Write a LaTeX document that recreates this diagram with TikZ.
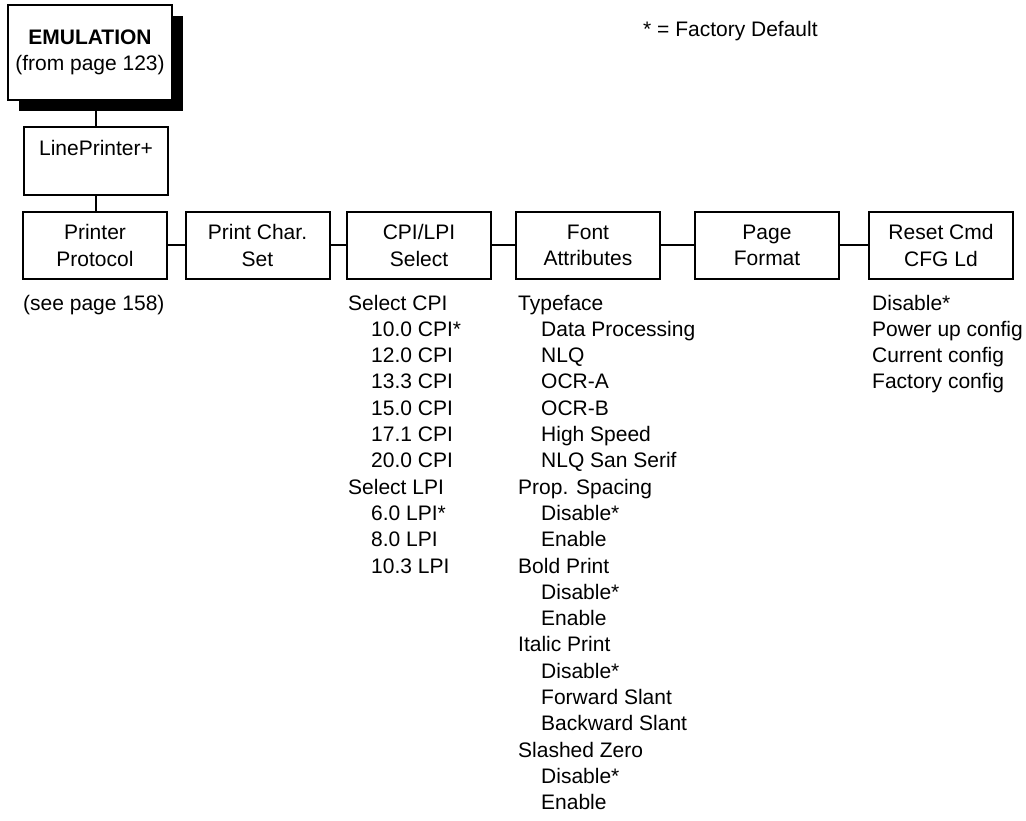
\documentclass[tikz,border=0pt]{standalone}
\usepackage{fontspec}
\setmainfont{Liberation Sans}
\usepackage{tikz}
\usetikzlibrary{positioning, calc, shadows}

% indent for the option values under a menu entry
\newcommand{\optind}{\hspace*{23pt}}

\begin{document}
\begin{tikzpicture}[x=1pt, y=-1pt,
    every node/.style={font=\fontsize{21}{26.3}\selectfont},
    menubox/.style={draw, line width=2pt, fill=white, align=center,
        minimum width=144pt, minimum height=67pt, inner sep=0pt},
    menulist/.style={anchor=base west, align=left, inner sep=0pt}]

    \useasboundingbox (0,0) rectangle (1026,821);

    % --- Top Entry Box (with shadow) ---
    \node[menubox, minimum width=164pt, minimum height=95pt,
        drop shadow={shadow xshift=11pt, shadow yshift=-11pt, fill=black, opacity=1}]
        (emu) at (90,52.5) {\textbf{EMULATION}\\(from page 123)};

    % --- Emulation Choice ---
    \node[menubox, minimum height=68pt] (lp) at (96,161) {LinePrinter+\\\mbox{}};

    % --- Menu Row ---
    \node[menubox] (pp)    at (95,245.5)  {Printer\\Protocol};
    \node[menubox] (pcs)   at (257.5,245.5) {Print Char.\\Set};
    \node[menubox] (cpi)   at (419,245.5) {CPI/LPI\\Select};
    \node[menubox] (font)  at (588,245.5) {Font\\Attributes};
    \node[menubox] (page)  at (767,245.5) {Page\\Format};
    \node[menubox] (reset) at (941,245.5) {Reset Cmd\\CFG Ld};

    % --- Connectors ---
    \draw[line width=2pt] (lp.north) -- (lp.north |- emu.south);
    \draw[line width=2pt] (lp.south) -- (lp.south |- pp.north);
    \draw[line width=2pt] (pp.east) -- (pcs.west);
    \draw[line width=2pt] (pcs.east) -- (cpi.west);
    \draw[line width=2pt] (cpi.east) -- (font.west);
    \draw[line width=2pt] (font.east) -- (page.west);
    \draw[line width=2pt] (page.east) -- (reset.west);

    % --- Option Lists ---
    % (base of a multi-line node is its last line: first line sits at y=310)
    \node[menulist] (see) at (23,310) {(see page 158)};

    \node[menulist] (cpilist) at (348,{310+10*26.3}) {Select CPI\\
        \optind 10.0 CPI*\\ \optind 12.0 CPI\\ \optind 13.3 CPI\\
        \optind 15.0 CPI\\ \optind 17.1 CPI\\ \optind 20.0 CPI\\
        Select LPI\\
        \optind 6.0 LPI*\\ \optind 8.0 LPI\\ \optind 10.3 LPI};

    \node[menulist] (fontlist) at (518,{310+19*26.3}) {Typeface\\
        \optind Data Processing\\ \optind NLQ\\ \optind OCR-A\\
        \optind OCR-B\\ \optind High Speed\\ \optind NLQ San Serif\\
        Prop. Spacing\\ \optind Disable*\\ \optind Enable\\
        Bold Print\\ \optind Disable*\\ \optind Enable\\
        Italic Print\\ \optind Disable*\\ \optind Forward Slant\\
        \optind Backward Slant\\
        Slashed Zero\\ \optind Disable*\\ \optind Enable};

    \node[menulist] (resetlist) at (872,{310+3*26.3}) {Disable*\\
        Power up config\\ Current config\\ Factory config};

    % Legend
    \node[menulist] (note) at (643,37) {* = Factory Default};

\end{tikzpicture}
\end{document}
